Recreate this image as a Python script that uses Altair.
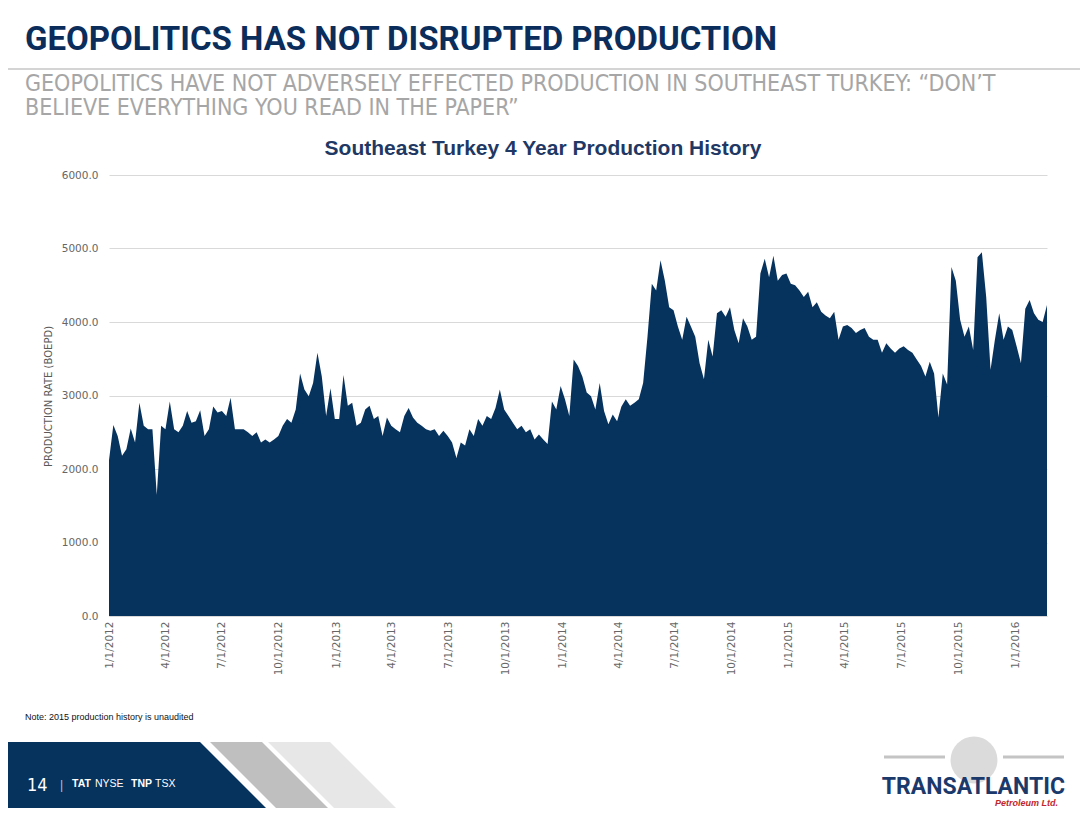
import altair as alt
import pandas as pd

# ---------------- data (weekly readings, BOEPD) ----------------
production_boepd = [
    2120, 2600, 2450, 2180, 2270, 2550, 2360, 2900, 2590, 2540,
    2540, 1650, 2590, 2540, 2920, 2540, 2500, 2590, 2790, 2630,
    2650, 2800, 2450, 2540, 2850, 2770, 2790, 2720, 2970, 2540,
    2540, 2540, 2500, 2450, 2500, 2360, 2400, 2360, 2400, 2450,
    2590, 2680, 2630, 2810, 3300, 3080, 2990, 3170, 3580, 3260,
    2720, 3100, 2680, 2680, 3280, 2860, 2900, 2590, 2630, 2810,
    2860, 2680, 2720, 2450, 2700, 2590, 2540, 2500, 2720, 2830,
    2700, 2630, 2590, 2540, 2520, 2540, 2450, 2520, 2450, 2360,
    2150, 2360, 2320, 2540, 2450, 2680, 2590, 2720, 2680, 2830,
    3080, 2810, 2720, 2630, 2540, 2590, 2500, 2540, 2400, 2470,
    2400, 2340, 2920, 2810, 3130, 2950, 2720, 3490, 3400, 3260,
    3040, 2990, 2810, 3170, 2790, 2610, 2740, 2650, 2850, 2950,
    2860, 2900, 2950, 3170, 3800, 4520, 4430, 4840, 4560, 4200,
    4160, 3940, 3760, 4070, 3940, 3800, 3440, 3220, 3760, 3530,
    4120, 4160, 4070, 4200, 3890, 3710, 4050, 3940, 3760, 3800,
    4660, 4860, 4610, 4900, 4560, 4640, 4660, 4520, 4500, 4430,
    4340, 4410, 4200, 4270, 4140, 4090, 4050, 4140, 3760, 3940,
    3960, 3920, 3850, 3890, 3920, 3800, 3760, 3760, 3580, 3710,
    3640, 3580, 3640, 3670, 3620, 3580, 3490, 3400, 3260, 3460,
    3300, 2700, 3300, 3150, 4750, 4560, 4030, 3800, 3940, 3620,
    4880, 4950, 4340, 3350, 3760, 4120, 3760, 3940, 3890, 3670,
    3440, 4180, 4300, 4120, 4030, 4000, 4230,
]
start_date = "2012-01-01"
tick_dates = [
    "2012-01-01", "2012-04-01", "2012-07-01", "2012-10-01",
    "2013-01-01", "2013-04-01", "2013-07-01", "2013-10-01",
    "2014-01-01", "2014-04-01", "2014-07-01", "2014-10-01",
    "2015-01-01", "2015-04-01", "2015-07-01", "2015-10-01",
    "2016-01-01",
]
y_ticks = [0, 1000, 2000, 3000, 4000, 5000, 6000]

title_text = "GEOPOLITICS HAS NOT DISRUPTED PRODUCTION"
subtitle_lines = [
    "GEOPOLITICS HAVE NOT ADVERSELY EFFECTED PRODUCTION IN SOUTHEAST TURKEY: \u201cDON\u2019T",
    "BELIEVE EVERYTHING YOU READ IN THE PAPER\u201d",
]
chart_title = "Southeast Turkey 4 Year Production History"
y_title = "PRODUCTION RATE (BOEPD)"
note_text = "Note:  2015 production history is unaudited"

dates = pd.date_range(start_date, periods=len(production_boepd), freq="7D")
df = pd.DataFrame({"date": dates.strftime("%Y-%m-%d"), "boepd": production_boepd})


def ms(d):
    return int(pd.Timestamp(d, tz="UTC").value // 10**6)


NAVY = "#06325E"
OX, OY = 109, 175  # slide position of plot origin


def px(X):
    return X - OX


def py(Y):
    return Y - OY


one = pd.DataFrame({"a": [0]})

area = alt.Chart(df).mark_area(color=NAVY, interpolate="linear").encode(
    x=alt.X(
        "date:T",
        title=None,
        scale=alt.Scale(type="utc", domain=[ms(df["date"].iloc[0]), ms(df["date"].iloc[-1])]),
        axis=alt.Axis(
            values=[ms(d) for d in tick_dates],
            labelExpr="utcFormat(datum.value, '%-m/%-d/%Y')",
            labelAngle=-90,
            labelPadding=5,
            ticks=False,
            grid=False,
            domain=True,
            domainColor="#D9D9D9",
            labelFont="DejaVu Sans",
            labelFontSize=10.5,
            labelColor="#666666",
            labelOverlap=False,
        ),
    ),
    y=alt.Y(
        "boepd:Q",
        title=y_title,
        scale=alt.Scale(domain=[0, 6000], nice=False),
        axis=alt.Axis(
            values=y_ticks,
            format=".1f",
            ticks=False,
            domain=False,
            grid=True,
            gridColor="#D9D9D9",
            labelPadding=11,
            labelFont="DejaVu Sans",
            labelFontSize=10.5,
            labelColor="#666666",
            titleFont="DejaVu Sans",
            titleFontSize=10,
            titleFontWeight="normal",
            titleColor="#595959",
            titleAngle=270,
            titleAlign="center",
            titleBaseline="middle",
            titleX=px(48),
            titleY=221,
        ),
    ),
)


def text_layer(s, X, Y, size, color, font="Liberation Sans", weight="normal",
               align="left", style="normal"):
    return alt.Chart(pd.DataFrame({"t": [s]})).mark_text(
        align=align, baseline="alphabetic", fontSize=size, color=color,
        font=font, fontWeight=weight, fontStyle=style,
    ).encode(x=alt.value(px(X)), y=alt.value(py(Y)), text="t:N")


def poly_layer(points, color):
    path = "M" + " L".join(f"{x},{y}" for x, y in points) + " Z"
    return alt.Chart(one).mark_point(
        shape=path, size=4, filled=True, color=color, opacity=1, strokeWidth=0
    ).encode(x=alt.value(px(0)), y=alt.value(py(0)))


def rule_layer(X1, X2, Y, color, width):
    return alt.Chart(one).mark_rule(color=color, strokeWidth=width).encode(
        x=alt.value(px(X1)), x2=alt.value(px(X2)), y=alt.value(py(Y))
    )


COND = "DejaVu Sans Condensed, sans-serif"

layers = [
    area,
    rule_layer(0, 1088, 69, "#D4D4D4", 2),
    text_layer(title_text, 25, 50, 33, "#0B2D5B", "Roboto", "bold"),
    text_layer(subtitle_lines[0], 25, 91, 23, "#A6A6A6", COND),
    text_layer(subtitle_lines[1], 25, 115, 23, "#A6A6A6", COND),
    text_layer(chart_title, 543, 155, 21, "#1F3864", "Liberation Sans", "bold", "center"),
    text_layer(note_text, 25, 720, 9, "#111111"),
    # footer shapes
    poly_layer([(0, 742), (200, 742), (274, 816), (0, 816)], NAVY),
    poly_layer([(210, 742), (262, 742), (336, 816), (284, 816)], "#BFBFBF"),
    poly_layer([(268, 742), (330, 742), (404, 816), (342, 816)], "#E7E7E7"),
    text_layer("14", 27, 791, 18, "#FFFFFF", COND),
    text_layer("|", 60, 789, 12, "#BFBFBF"),
    text_layer("TAT", 72, 787, 10.5, "#FFFFFF", "Liberation Sans", "bold"),
    text_layer("NYSE", 95, 787, 10.5, "#FFFFFF", "Liberation Sans"),
    text_layer("TNP", 131, 787, 10.5, "#FFFFFF", "Liberation Sans", "bold"),
    text_layer("TSX", 155, 787, 10.5, "#FFFFFF", "Liberation Sans"),
    # logo
    rule_layer(884, 945, 757, "#C4C4C4", 3),
    rule_layer(1003, 1064, 757, "#C4C4C4", 3),
    alt.Chart(one).mark_point(shape="circle", size=2200, filled=True, color="#D2D2D2",
                              opacity=0.8, strokeWidth=0).encode(
        x=alt.value(px(974)), y=alt.value(py(760))),
    text_layer("TRANSATLANTIC", 1065, 794, 23, "#1B3A6B", "Roboto", "bold", "right"),
    text_layer("Petroleum Ltd.", 1058, 806, 9, "#C1272D", "Liberation Sans", "bold", "right", "italic"),
]

chart = alt.layer(*layers).properties(
    width=938,
    height=441,
    padding={"left": 101, "top": 167, "right": 33, "bottom": 192},
    autosize=alt.AutoSizeParams(type="none"),
    background="#FFFFFF",
).configure_view(stroke=None)

chart.save("out.html", embed_options={"renderer": "svg", "actions": False})
